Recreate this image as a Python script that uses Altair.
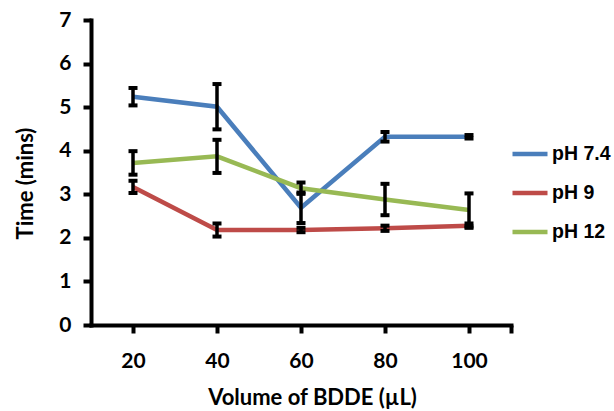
import altair as alt
import pandas as pd

# BDDE volume (µL) on the x axis
volumes = [20, 40, 60, 80, 100]

# Mean time (mins) and error for each pH
ph74 = [5.24, 5.01, 2.69, 4.32, 4.32]
err74 = [0.20, 0.52, 0.35, 0.11, 0.04]
ph9 = [3.17, 2.18, 2.18, 2.22, 2.28]
err9 = [0.14, 0.15, 0.05, 0.06, 0.05]
ph12 = [3.72, 3.87, 3.14, 2.88, 2.64]
err12 = [0.27, 0.38, 0.13, 0.36, 0.38]

series_names = ["pH 7.4", "pH 9", "pH 12"]
series_colors = ["#4A7EBB", "#BE4B48", "#98B954"]

rows = []
for name, vals, errs in zip(series_names, [ph74, ph9, ph12], [err74, err9, err12]):
    for v, t, e in zip(volumes, vals, errs):
        rows.append({"series": name, "volume": v, "time": t,
                     "lo": t - e, "hi": t + e})
df = pd.DataFrame(rows)

x_enc = alt.X("volume:Q",
              scale=alt.Scale(domain=[10, 110], nice=False, zero=False),
              axis=alt.Axis(values=[20, 40, 60, 80, 100, 110],
                            labelExpr="datum.value == 110 ? '' : datum.label",
                            title="Volume of BDDE (µL)",
                            grid=False, tickSize=8, tickWidth=4,
                            labelPadding=17, titleX=221, titleY=79,
                            titleBaseline="alphabetic"))
y_scale = alt.Scale(domain=[0, 7], nice=False)

lines = alt.Chart(df).mark_line(strokeWidth=4.5).encode(
    x=x_enc,
    y=alt.Y("time:Q", scale=y_scale,
            axis=alt.Axis(values=[0, 1, 2, 3, 4, 5, 6, 7], title="Time (mins)",
                          grid=False, tickSize=8, tickWidth=4, labelPadding=12,
                          titleX=-66, titleY=163, titleAngle=-90,
                          titleBaseline="middle", titleAlign="center")),
    color=alt.Color("series:N",
                    scale=alt.Scale(domain=series_names, range=series_colors),
                    legend=alt.Legend(title=None, orient="none", legendX=419, legendY=114,
                                      symbolType="stroke", symbolStrokeWidth=4.5,
                                      symbolSize=1225, labelFont="Liberation Sans",
                                      labelFontWeight="bold", labelFontSize=19.5,
                                      labelColor="black", labelOffset=2,
                                      labelLimit=0, rowPadding=9)),
    detail="series:N",
)

bars = alt.Chart(df).mark_rule(color="black", strokeWidth=3.5).encode(
    x="volume:Q", y=alt.Y("lo:Q", scale=y_scale), y2="hi:Q")
caps_top = alt.Chart(df).mark_tick(color="black", orient="horizontal", size=9,
                                   thickness=4, opacity=1).encode(
    x="volume:Q", y=alt.Y("hi:Q", scale=y_scale))
caps_bot = alt.Chart(df).mark_tick(color="black", orient="horizontal", size=9,
                                   thickness=4, opacity=1).encode(
    x="volume:Q", y=alt.Y("lo:Q", scale=y_scale))

chart = alt.layer(lines, bars, caps_top, caps_bot).properties(
    width=420, height=305,
    autosize=alt.AutoSizeParams(type="none"),
    padding={"left": 91, "top": 20, "right": 103, "bottom": 86},
    background="white",
).configure_view(stroke=None).configure_axis(
    domainColor="black", domainWidth=4, domainCap="square",
    tickColor="black", labelColor="black", titleColor="black",
    labelFont="Lato", labelFontWeight="bold", labelFontSize=21,
    titleFont="Lato", titleFontWeight="bold", titleFontSize=22,
)

chart.save("out.html", embed_options={"renderer": "svg", "actions": False})
